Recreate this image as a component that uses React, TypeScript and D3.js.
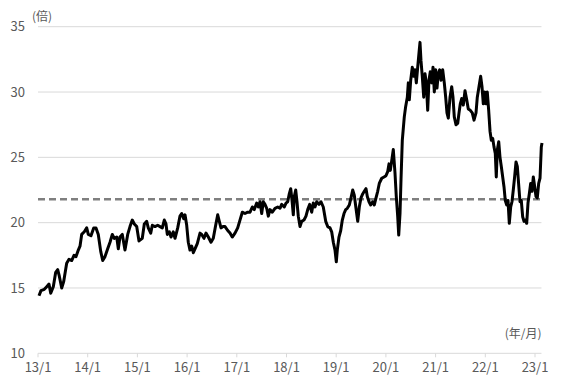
import React from "react";
import * as d3 from "d3";

const YEARS: number[] = [
  2013.020, 2013.060, 2013.127, 2013.175, 2013.221, 2013.256, 2013.308, 2013.356, 2013.396, 2013.429,
  2013.477, 2013.517, 2013.577, 2013.624, 2013.678, 2013.724, 2013.765, 2013.811, 2013.845, 2013.879,
  2013.932, 2013.980, 2014.012, 2014.066, 2014.121, 2014.167, 2014.213, 2014.262, 2014.302, 2014.348,
  2014.402, 2014.449, 2014.495, 2014.535, 2014.584, 2014.616, 2014.650, 2014.696, 2014.750, 2014.805,
  2014.851, 2014.897, 2014.938, 2014.986, 2015.032, 2015.098, 2015.139, 2015.187, 2015.219, 2015.268,
  2015.300, 2015.354, 2015.408, 2015.455, 2015.501, 2015.541, 2015.575, 2015.602, 2015.642, 2015.676,
  2015.722, 2015.757, 2015.811, 2015.857, 2015.891, 2015.932, 2015.958, 2015.992, 2016.024, 2016.058,
  2016.093, 2016.125, 2016.159, 2016.205, 2016.260, 2016.294, 2016.340, 2016.380, 2016.427, 2016.481,
  2016.527, 2016.575, 2016.616, 2016.648, 2016.682, 2016.722, 2016.763, 2016.817, 2016.863, 2016.909,
  2016.964, 2017.018, 2017.064, 2017.111, 2017.165, 2017.219, 2017.266, 2017.312, 2017.352, 2017.400,
  2017.433, 2017.467, 2017.501, 2017.533, 2017.567, 2017.602, 2017.634, 2017.668, 2017.714, 2017.769,
  2017.823, 2017.869, 2017.903, 2017.956, 2017.990, 2018.024, 2018.056, 2018.085, 2018.111, 2018.137,
  2018.157, 2018.185, 2018.211, 2018.237, 2018.272, 2018.306, 2018.352, 2018.392, 2018.427, 2018.467,
  2018.507, 2018.539, 2018.573, 2018.608, 2018.654, 2018.694, 2018.740, 2018.789, 2018.829, 2018.875,
  2018.909, 2018.942, 2018.976, 2019.002, 2019.022, 2019.056, 2019.091, 2019.123, 2019.157, 2019.191,
  2019.223, 2019.264, 2019.298, 2019.332, 2019.364, 2019.398, 2019.433, 2019.465, 2019.499, 2019.533,
  2019.565, 2019.600, 2019.626, 2019.660, 2019.694, 2019.734, 2019.767, 2019.801, 2019.835, 2019.867,
  2019.916, 2019.962, 2020.002, 2020.036, 2020.062, 2020.089, 2020.123, 2020.149, 2020.183, 2020.209,
  2020.237, 2020.258, 2020.284, 2020.304, 2020.330, 2020.370, 2020.398, 2020.431, 2020.451, 2020.471,
  2020.499, 2020.531, 2020.559, 2020.586, 2020.612, 2020.640, 2020.666, 2020.686, 2020.706, 2020.732,
  2020.761, 2020.787, 2020.813, 2020.841, 2020.867, 2020.893, 2020.922, 2020.948, 2020.974, 2021.002,
  2021.028, 2021.054, 2021.082, 2021.109, 2021.143, 2021.175, 2021.203, 2021.229, 2021.256, 2021.290,
  2021.324, 2021.350, 2021.376, 2021.410, 2021.445, 2021.471, 2021.497, 2021.525, 2021.557, 2021.592,
  2021.626, 2021.658, 2021.698, 2021.738, 2021.773, 2021.813, 2021.839, 2021.873, 2021.907, 2021.934,
  2021.960, 2021.988, 2022.014, 2022.040, 2022.068, 2022.095, 2022.121, 2022.149, 2022.175, 2022.201,
  2022.221, 2022.241, 2022.270, 2022.296, 2022.322, 2022.350, 2022.376, 2022.402, 2022.431, 2022.457,
  2022.483, 2022.511, 2022.537, 2022.563, 2022.590, 2022.618, 2022.644, 2022.672, 2022.698, 2022.724,
  2022.752, 2022.779, 2022.805, 2022.833, 2022.859, 2022.885, 2022.913, 2022.940, 2022.966, 2022.994,
  2023.020, 2023.046, 2023.074, 2023.101, 2023.127, 2023.141,
];

const PER: number[] = [
  14.4, 14.8, 14.9, 15.1, 15.3, 14.6, 15.1, 16.2, 16.4, 15.9,
  15.0, 15.5, 16.9, 17.2, 17.1, 17.5, 17.4, 17.9, 18.2, 19.1,
  19.3, 19.6, 19.1, 19.0, 19.6, 19.6, 19.1, 17.8, 17.1, 17.4,
  18.0, 18.5, 19.1, 18.8, 18.9, 18.0, 18.9, 19.1, 17.9, 19.1,
  19.7, 20.2, 19.9, 19.7, 18.6, 18.8, 19.9, 20.1, 19.6, 19.2,
  19.8, 19.7, 19.8, 19.7, 19.6, 20.2, 19.9, 19.1, 19.3, 18.9,
  19.3, 18.8, 19.6, 20.5, 20.7, 20.3, 20.6, 19.8, 18.5, 17.9,
  18.2, 17.7, 18.0, 18.4, 19.2, 19.1, 18.8, 19.2, 18.9, 18.5,
  18.8, 19.8, 20.6, 20.1, 19.6, 19.7, 19.7, 19.4, 19.2, 18.9,
  19.2, 19.6, 20.2, 20.8, 20.7, 20.8, 20.8, 21.2, 21.0, 21.5,
  21.2, 21.6, 20.7, 21.6, 21.4, 21.1, 20.5, 21.0, 20.8, 21.1,
  21.2, 21.1, 21.4, 21.2, 21.5, 21.6, 22.2, 22.6, 21.7, 20.6,
  22.0, 22.5, 21.6, 20.5, 19.7, 20.1, 20.2, 20.5, 21.0, 21.4,
  20.8, 21.5, 21.2, 21.6, 21.4, 21.6, 21.2, 20.1, 19.7, 19.6,
  19.3, 18.5, 17.9, 17.0, 17.9, 18.9, 19.4, 20.2, 20.7, 21.0,
  21.1, 21.35, 21.9, 22.5, 22.1, 21.1, 20.1, 21.2, 21.9, 22.2,
  22.4, 22.6, 22.0, 21.6, 21.35, 21.6, 21.35, 21.9, 22.4, 23.0,
  23.4, 23.5, 23.6, 23.9, 24.5, 24.0, 24.9, 25.6, 23.8, 22.0,
  20.5, 19.05, 20.7, 23.3, 26.3, 28.1, 28.9, 29.6, 30.7, 29.4,
  30.9, 31.9, 31.2, 31.7, 30.7, 31.9, 33.0, 33.8, 32.4, 31.2,
  29.6, 31.4, 30.7, 28.6, 30.9, 31.55, 30.7, 31.9, 30.0, 31.7,
  30.3, 31.4, 31.7, 30.9, 31.7, 30.7, 29.6, 28.4, 28.0, 29.6,
  30.4, 29.6, 28.1, 27.5, 27.6, 28.4, 29.1, 29.5, 29.0, 30.1,
  29.4, 28.7, 28.6, 28.4, 27.85, 28.4, 29.6, 30.4, 31.2, 30.4,
  29.1, 30.0, 29.1, 30.0, 28.6, 27.0, 26.3, 26.45, 25.8, 25.3,
  23.5, 25.55, 26.2, 25.0, 24.3, 23.5, 22.75, 21.7, 21.35, 21.7,
  19.95, 21.2, 21.6, 22.5, 23.5, 24.65, 24.3, 22.9, 21.6, 21.7,
  20.45, 20.1, 20.2, 19.95, 21.5, 22.2, 23.0, 22.4, 23.5, 22.75,
  22.0, 21.9, 23.0, 23.4, 25.8, 26.1,
];

const AVERAGE = 21.8;
const Y_TICKS = [10, 15, 20, 25, 30, 35];
const X_TICK_YEARS = [2013, 2014, 2015, 2016, 2017, 2018, 2019, 2020, 2021, 2022, 2023];
const X_TICK_LABELS = ["13/1", "14/1", "15/1", "16/1", "17/1", "18/1", "19/1", "20/1", "21/1", "22/1", "23/1"];
const Y_UNIT = "(倍)";
const X_UNIT = "(年/月)";

export default function App() {
  const W = 567;
  const H = 379;
  const x = d3.scaleLinear().domain([2013, 2023]).range([38, 535]);
  const y = d3.scaleLinear().domain([10, 35]).range([353.3, 26.7]);
  const xEnd = x(2023.13);
  const data = YEARS.map((t, i) => [t, PER[i]] as [number, number]);
  const line = d3
    .line<[number, number]>()
    .x((d) => x(d[0]))
    .y((d) => y(d[1]))
    .curve(d3.curveLinear);
  const font = "'Noto Sans CJK JP', 'Noto Sans', sans-serif";
  const textColor = "#595959";
  return (
    <div style={{ position: "absolute", left: 0, top: 0 }}>
      <svg width={W} height={H} style={{ display: "block", background: "#fff" }}>
        {Y_TICKS.filter((v) => v !== 10).map((v) => (
          <line key={v} x1={x(2013)} x2={xEnd} y1={y(v)} y2={y(v)} stroke="#d9d9d9" strokeWidth={1} />
        ))}
        <line x1={x(2013)} x2={xEnd} y1={y(10)} y2={y(10)} stroke="#d9d9d9" strokeWidth={1} />
        {X_TICK_YEARS.map((t) => (
          <line key={t} x1={x(t)} x2={x(t)} y1={y(10)} y2={y(10) + 4} stroke="#d9d9d9" strokeWidth={1} />
        ))}
        {Y_TICKS.map((v) => (
          <text key={v} x={25} y={y(v)} dy="0.35em" textAnchor="end" fontFamily={font} fontSize={13} fill={textColor}>
            {v}
          </text>
        ))}
        {X_TICK_YEARS.map((t, i) => (
          <text key={t} x={x(t)} y={372} textAnchor="middle" fontFamily={font} fontSize={13} fill={textColor}>
            {X_TICK_LABELS[i]}
          </text>
        ))}
        <text x={32} y={21} fontFamily={font} fontSize={12} fill={textColor}>
          {Y_UNIT}
        </text>
        <text x={xEnd} y={338} textAnchor="end" fontFamily={font} fontSize={12} fill={textColor}>
          {X_UNIT}
        </text>
        <line
          x1={x(2013)}
          x2={xEnd}
          y1={y(AVERAGE)}
          y2={y(AVERAGE)}
          stroke="#7f7f7f"
          strokeWidth={2.5}
          strokeDasharray="7,4"
        />
        <path d={line(data) || ""} fill="none" stroke="#000" strokeWidth={3} strokeLinejoin="round" />
      </svg>
    </div>
  );
}
